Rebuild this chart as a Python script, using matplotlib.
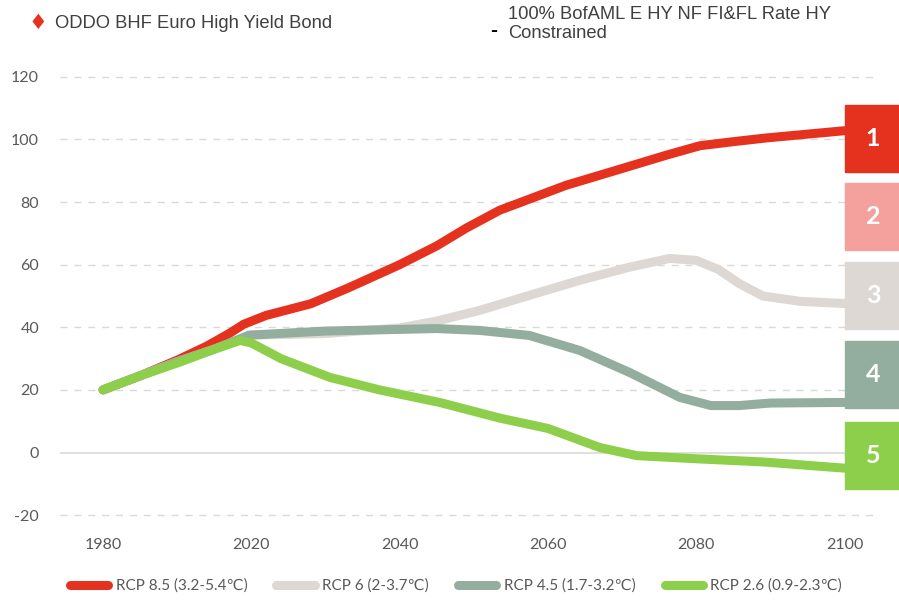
import numpy as np
import matplotlib
matplotlib.use("Agg")
import matplotlib.pyplot as plt
from matplotlib.patches import Rectangle
from matplotlib.lines import Line2D

plt.rcParams["axes.unicode_minus"] = False

# ── Data ─────────────────────────────────────────────────────────────────────
years_85 = [1980, 1990, 2000, 2008, 2014, 2018, 2022, 2028, 2033, 2040, 2045,
            2049, 2053.5, 2062.5, 2069, 2076, 2080.5, 2085, 2089.5, 2100]
rcp_85   = [20, 24.5, 29.5, 34, 38, 41, 43.8, 47.5, 52.5, 60, 66,
            71.7, 77.4, 85.4, 90, 95, 98, 99.3, 100.5, 102.8]

years_60 = [1980, 1990, 2000, 2010, 2020, 2030, 2040, 2045, 2050.8, 2057.5,
            2064.3, 2071, 2076.4, 2080, 2083, 2085.8, 2089, 2094, 2100]
rcp_60   = [20, 24.5, 29, 33, 37.5, 38, 39.8, 42, 45.4, 50.2,
            55, 59.2, 62, 61.4, 58.5, 54, 50, 48.3, 47.6]

years_45 = [1980, 1990, 2000, 2010, 2019.4, 2030, 2045, 2050.8, 2057.5, 2064.3,
            2071, 2077.8, 2082, 2085.8, 2090, 2100]
rcp_45   = [20, 24.5, 29, 33, 37.5, 38.8, 39.6, 39, 37.4, 32.6,
            25.6, 17.6, 15, 15, 15.8, 16]

years_26 = [1980, 1990, 2001, 2010, 2017, 2020, 2024, 2030.6, 2037.3, 2045.4,
            2053.5, 2060, 2067, 2072, 2080, 2089, 2100]
rcp_26   = [20, 24.5, 29, 33, 35.8, 35, 30, 24, 20, 16,
            11, 7.7, 1.6, -1, -2, -3, -5]

labels = ["RCP 8.5 (3.2-5.4℃)", "RCP 6 (2-3.7℃)", "RCP 4.5 (1.7-3.2℃)", "RCP 2.6 (0.9-2.3℃)"]
xticks = [1980, 2020, 2040, 2060, 2080, 2100]
yticks = [-20, 0, 20, 40, 60, 80, 100, 120]
ranks  = ["1", "2", "3", "4", "5"]

# ── Palette ──────────────────────────────────────────────────────────────────
C85 = "#E5321F"; C60 = "#DDD8D3"; C45 = "#93AE9E"; C26 = "#8DCF4A"
CPINK = "#F4A09C"; GRID = "#D9D9D9"; TICK = "#595959"; TXT = "#404040"
box_colors = [C85, CPINK, C60, C45, C26]

FONT = ["Lato", "DejaVu Sans"]

fig = plt.figure(figsize=(8.99, 6.0), dpi=100, facecolor="white")
ax = fig.add_axes([60/899, 1 - 517/600, 820/899, 442/600])

# category-like axis: 1980 -> 2020 takes one step, then 20 years per step
def fwd(y):
    y = np.asarray(y, dtype=float)
    return np.where(y < 2020, (y - 1980) / 40.0, (y - 2000) / 20.0)

def inv(p):
    p = np.asarray(p, dtype=float)
    return np.where(p < 1, 1980 + 40.0 * p, 2000 + 20.0 * p)

ax.set_xscale("function", functions=(fwd, inv))

lw = 6.5
for xs, ys, c in [(years_85, rcp_85, C85), (years_60, rcp_60, C60),
                  (years_45, rcp_45, C45), (years_26, rcp_26, C26)]:
    ax.plot(xs, ys, color=c, lw=lw, solid_capstyle="round",
            solid_joinstyle="round", zorder=3)

ax.set_xlim(inv(-0.29), inv(5.24))
ax.set_ylim(-20.6, 120.6)
ax.set_xticks(xticks)
ax.set_xticklabels([str(v) for v in xticks])
ax.xaxis.set_minor_locator(matplotlib.ticker.NullLocator())
ax.set_yticks(yticks)
ax.set_yticklabels([str(v) for v in yticks])
for lab in ax.get_xticklabels() + ax.get_yticklabels():
    lab.set_family(FONT)
    lab.set_fontsize(11.5)
    lab.set_color(TICK)
ax.tick_params(axis="y", length=0, pad=15)
ax.tick_params(axis="x", length=0, pad=15)

for v in yticks:
    if v == 0:
        ax.axhline(v, color=GRID, lw=1.2, zorder=1)
    else:
        ax.axhline(v, color=GRID, lw=1.0, ls=(0, (5, 5)), zorder=1)
for sp in ax.spines.values():
    sp.set_visible(False)

# ── Rank boxes at the right edge ─────────────────────────────────────────────
box_tops = [105, 183, 262, 341, 422]
for top, col, r in zip(box_tops, box_colors, ranks):
    fig.add_artist(Rectangle((845/899, 1 - (top + 67)/600), 54/899, 67/600,
                             transform=fig.transFigure, color=col, zorder=5))
    fig.text(873/899, 1 - (top + 33.5)/600, r, color="white", fontsize=18,
             fontweight="bold", ha="center", va="center", family=FONT, zorder=6)

# ── Top legend ───────────────────────────────────────────────────────────────
fig.text(38/899, 1 - 23/600, "♦", color=C85, fontsize=15, ha="center", va="center")
fig.text(55/899, 1 - 23/600, "ODDO BHF Euro High Yield Bond", color=TXT,
         fontsize=13.2, ha="left", va="center", family="Liberation Sans")
fig.text(494/899, 1 - 30/600, "-", color="black", fontsize=15, fontweight="bold",
         ha="center", va="center", family="Liberation Sans")
fig.text(508/899, 1 - 24/600, "100% BofAML E HY NF FI&FL Rate HY\nConstrained",
         color=TXT, fontsize=13.2, ha="left", va="center", linespacing=1.2,
         family="Liberation Sans")

# ── Bottom legend ────────────────────────────────────────────────────────────
handles = [Line2D([], [], color=c, lw=lw, solid_capstyle="round")
           for c in [C85, C60, C45, C26]]
fig.legend(handles, labels, loc="center", bbox_to_anchor=(456/899, 1 - 586/600),
           ncol=4, frameon=False, handlelength=2.5, handletextpad=0.5,
           columnspacing=1.9, prop={"family": FONT, "size": 11},
           labelcolor=TICK)

fig.savefig("out.png", dpi=100, facecolor="white")
